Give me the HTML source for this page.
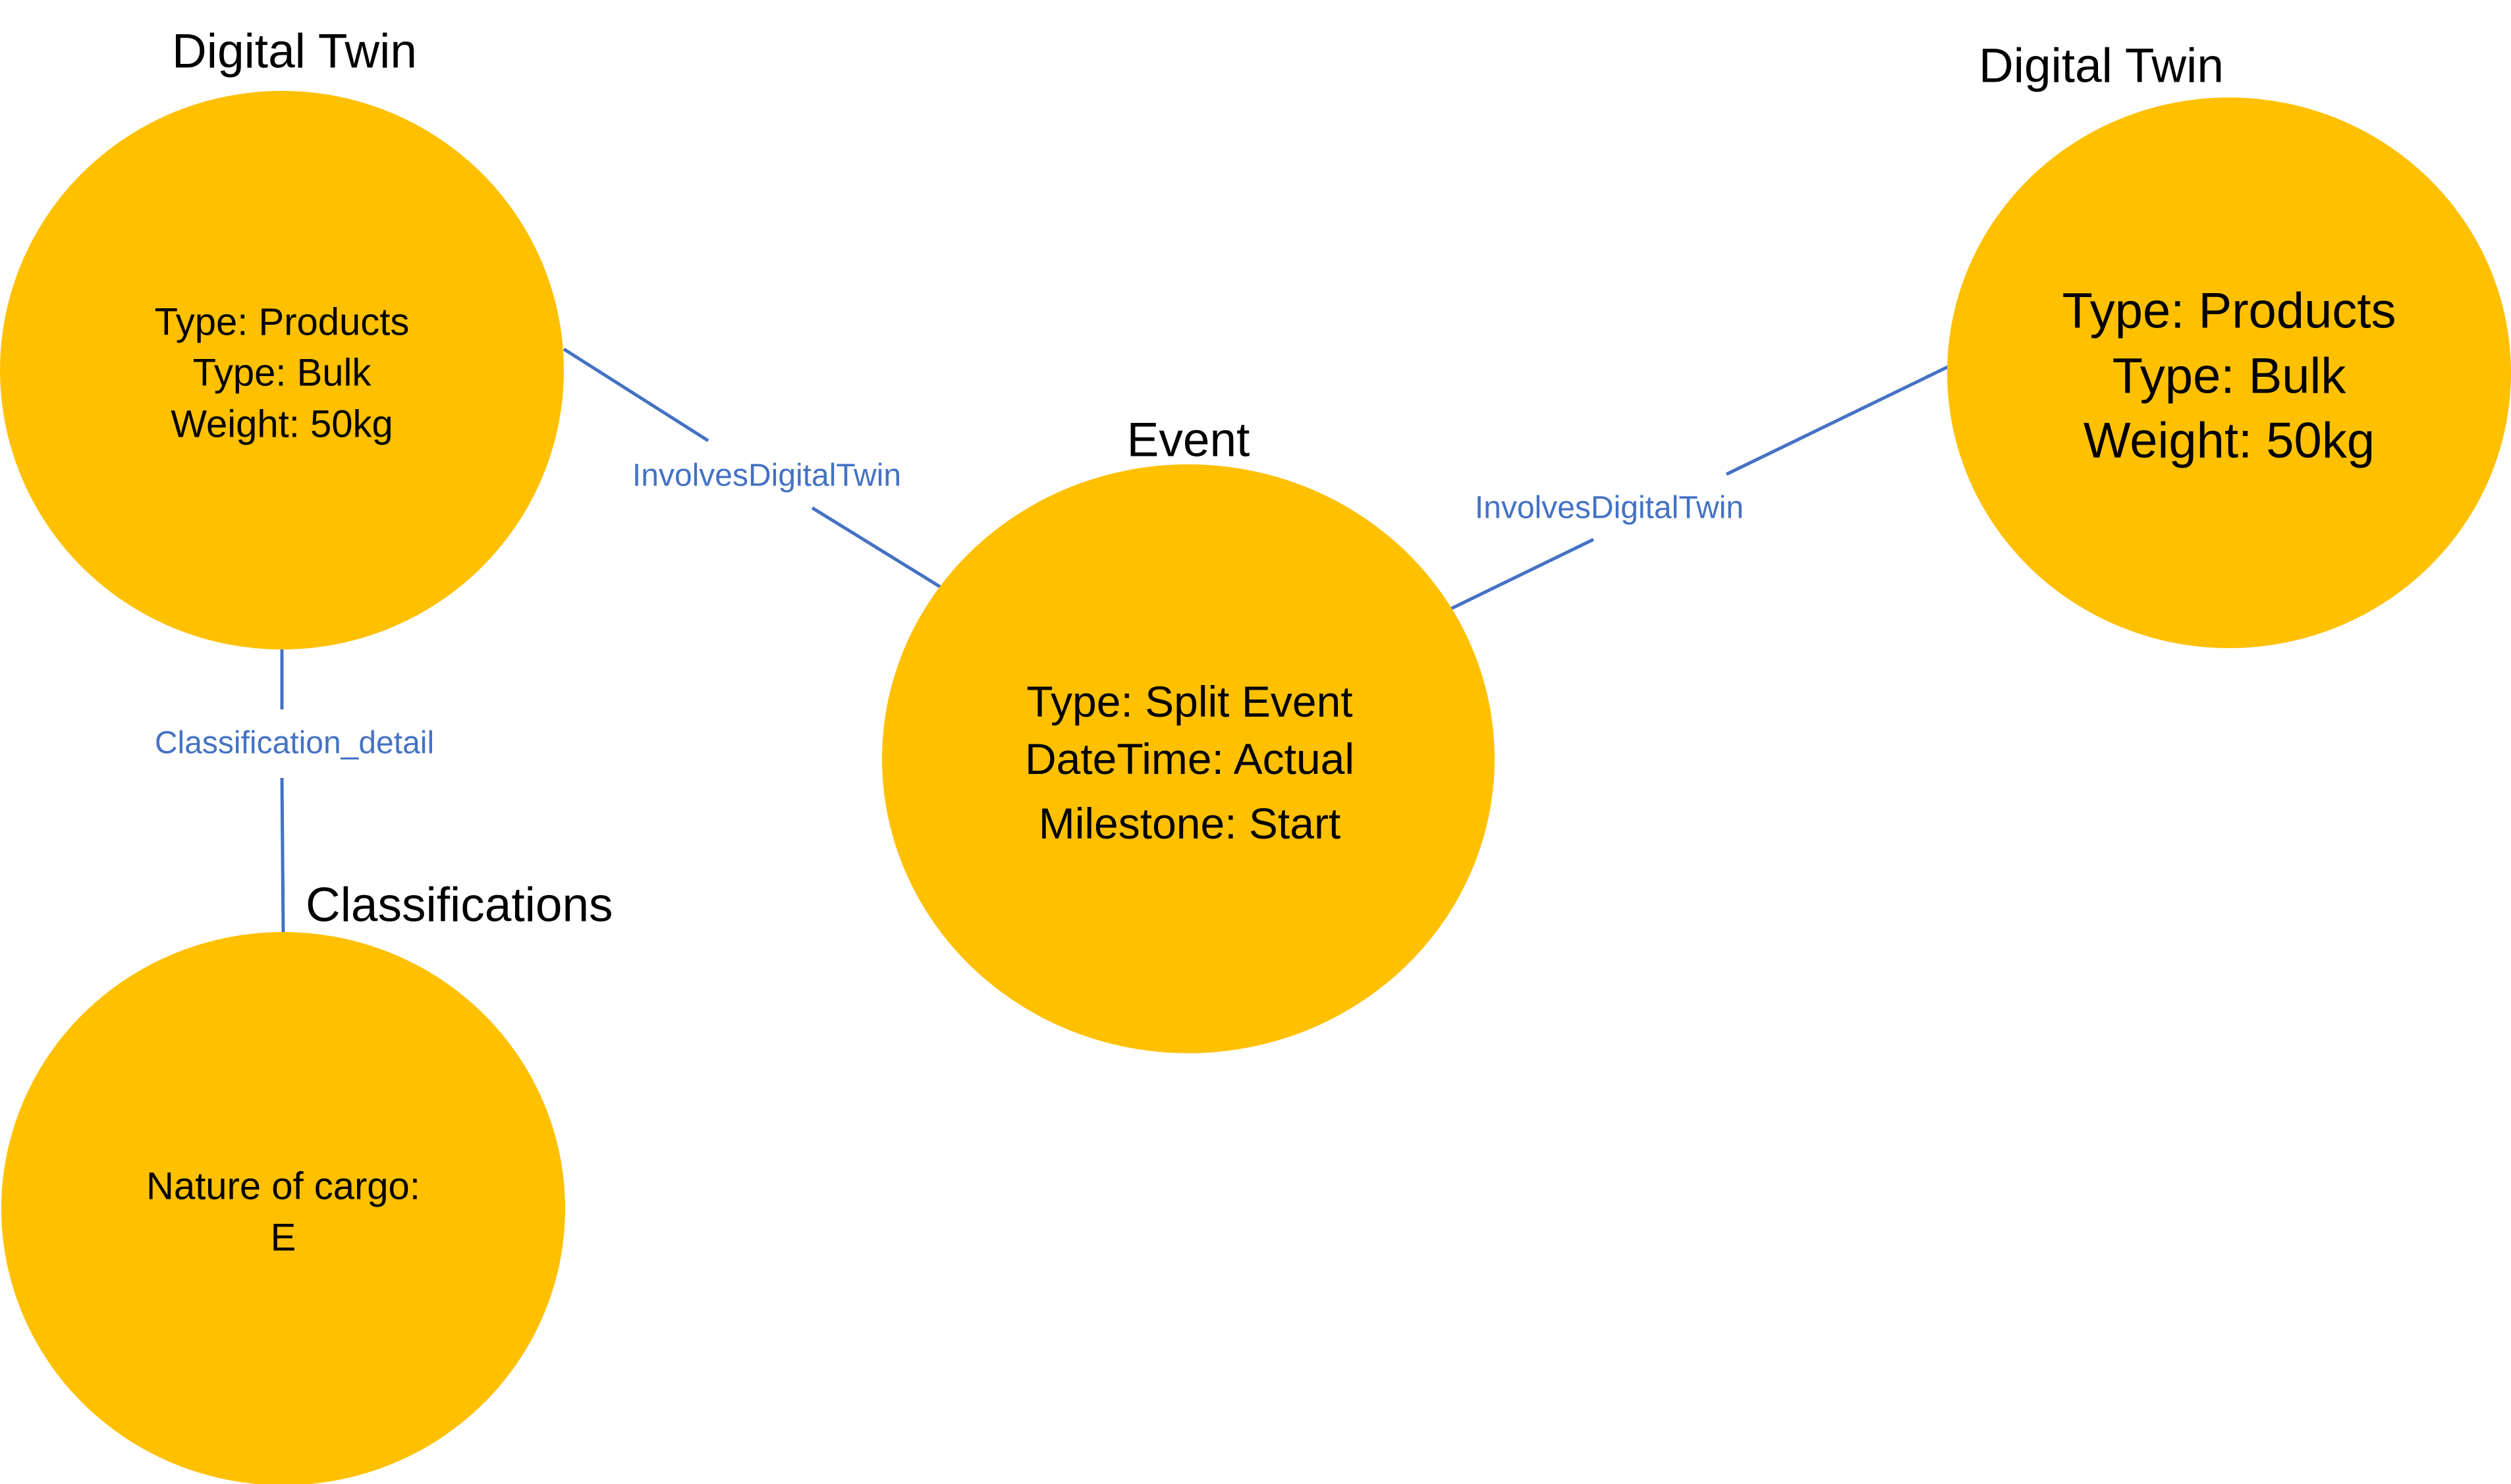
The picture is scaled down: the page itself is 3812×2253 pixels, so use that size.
<!DOCTYPE html>
<html>
<head>
<meta charset="utf-8">
<style>
html,body{margin:0;padding:0;background:#fff;}
svg{display:block;}
text{font-family:"Liberation Sans",sans-serif;}
</style>
</head>
<body>
<svg width="3812" height="2253" viewBox="0 0 3812 2253" xmlns="http://www.w3.org/2000/svg">
<rect width="3812" height="2253" fill="#fff"/>
<!-- connectors -->
<g stroke="#4472C4" stroke-width="5" fill="none">
<line x1="856" y1="530" x2="1075" y2="669"/>
<line x1="1233" y1="771" x2="1429" y2="892"/>
<line x1="2203" y1="924" x2="2419" y2="819"/>
<line x1="2621" y1="720" x2="2957" y2="557"/>
<line x1="428" y1="982" x2="428" y2="1077"/>
<line x1="428" y1="1181" x2="430" y2="1417"/>
</g>
<!-- circles -->
<g fill="#FFC000">
<ellipse cx="428" cy="562" rx="428" ry="424"/>
<ellipse cx="3384" cy="566" rx="428" ry="418"/>
<ellipse cx="1804" cy="1152" rx="465" ry="447"/>
<ellipse cx="430" cy="1835" rx="428" ry="420"/>
</g>
<!-- connector labels -->
<g fill="#4472C4" font-size="48" text-anchor="middle" dominant-baseline="central">
<text x="1164" y="722">InvolvesDigitalTwin</text>
<text x="2443" y="771">InvolvesDigitalTwin</text>
<text x="447" y="1128">Classification_detail</text>
</g>
<!-- titles -->
<g fill="#000" font-size="73" dominant-baseline="central">
<text x="447" y="78" text-anchor="middle">Digital Twin</text>
<text x="3190" y="100" text-anchor="middle">Digital Twin</text>
<text x="1804" y="668" text-anchor="middle">Event</text>
<text x="464" y="1374">Classifications</text>
</g>
<!-- node contents -->
<g fill="#000" text-anchor="middle" dominant-baseline="central">
<g font-size="58">
<text x="428" y="489">Type: Products</text>
<text x="428" y="566">Type: Bulk</text>
<text x="428" y="644">Weight: 50kg</text>
</g>
<g font-size="76">
<text x="3384" y="472">Type: Products</text>
<text x="3384" y="571">Type: Bulk</text>
<text x="3384" y="669">Weight: 50kg</text>
</g>
<g font-size="66">
<text x="1806" y="1065">Type: Split Event</text>
<text x="1806" y="1152">DateTime: Actual</text>
<text x="1806" y="1250">Milestone: Start</text>
</g>
<g font-size="58">
<text x="430" y="1801">Nature of cargo:</text>
<text x="430" y="1879">E</text>
</g>
</g>
</svg>
</body>
</html>
